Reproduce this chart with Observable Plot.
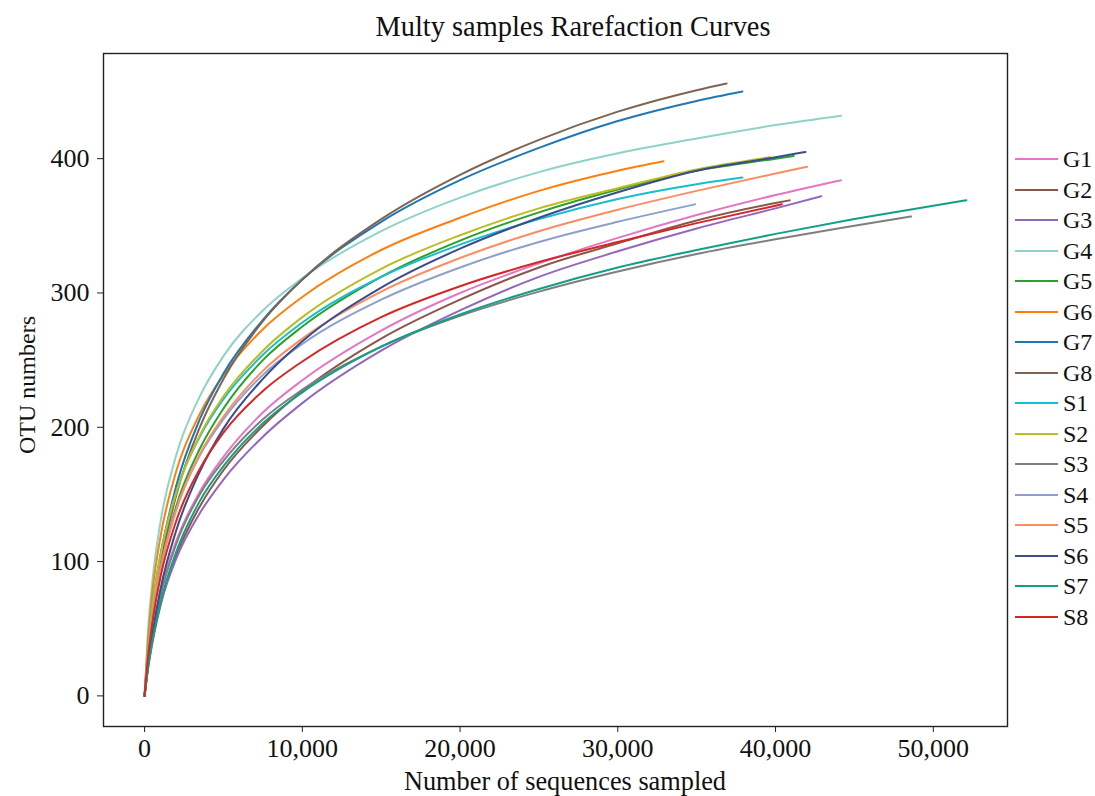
<!DOCTYPE html>
<html><head><meta charset="utf-8">
<script src="https://cdn.jsdelivr.net/npm/d3@7"></script>
<script src="https://cdn.jsdelivr.net/npm/@observablehq/plot@0.6"></script>
<style>
body{margin:0;background:#fff;}
#wrap{position:relative;width:1095px;height:796px;font-family:"Liberation Serif","Times New Roman",serif;color:#111;}
#chart{position:absolute;left:0;top:0;}
.lab{position:absolute;white-space:nowrap;line-height:1;}
</style></head><body>
<div id="wrap"><div id="chart"></div></div>
<script>
// ---- data ----
const samples = ["G1","G2","G3","G4","G5","G6","G7","G8","S1","S2","S3","S4","S5","S6","S7","S8"];
const colors  = ["#e377c2","#8c564b","#9467bd","#8dd3c7","#2ca02c","#ff7f0e","#1f77b4","#7e6451",
                 "#17becf","#bcbd22","#7f7f7f","#8da0cb","#fc8d62","#394d8c","#12a085","#d62728"];
const depths = [0,200,500,1000,2000,3500,5000,7500,10000,15000,20000,25000,30000,35000,40000,45000,50000];
const endDepths = [44150,40900,42900,44150,41150,32900,37900,36900,37900,39650,48600,34900,42000,41900,52100,40400];
const G1 = [0,23,48,77,115,152,178,211,235,272,300,322,341,358,373,384];
const G2 = [0,19,40,67,104,141,168,201,227,266,295,319,337,354,367,369];
const G3 = [0,21,43,68,102,136,161,193,218,257,287,312,331,348,363,372];
const G4 = [0,45,86,129,179,223,253,287,311,346,371,390,404,415,425,432];
const G5 = [0,28,58,94,141,184,214,250,275,312,339,360,377,391,400,402];
const G6 = [0,40,78,118,167,210,239,273,297,332,356,376,391,398];
const G7 = [0,30,63,103,156,206,240,280,310,353,384,408,428,443,450];
const G8 = [0,27,58,97,149,200,236,279,310,355,388,414,435,451,456];
const S1 = [0,34,68,105,152,193,221,254,278,312,336,355,370,381,386];
const S2 = [0,32,66,104,151,194,223,257,282,318,343,363,378,392,401];
const S3 = [0,21,45,74,113,150,175,206,228,260,283,301,316,329,340,350,357];
const S4 = [0,29,60,95,139,179,206,239,262,295,319,338,353,366];
const S5 = [0,28,58,93,138,180,208,242,266,301,326,346,362,376,389,394];
const S6 = [0,21,46,79,123,167,199,236,264,304,333,356,375,391,401,405];
const S7 = [0,19,41,69,107,145,171,203,226,260,284,303,319,332,344,355,365,369];
const S8 = [0,27,55,88,130,169,196,227,249,282,305,323,338,352,365,366];
const seriesValues = [G1,G2,G3,G4,G5,G6,G7,G8,S1,S2,S3,S4,S5,S6,S7,S8];
const xTicks = [0,10000,20000,30000,40000,50000];
const yTicks = [0,100,200,300,400];
const titleText = "Multy samples Rarefaction Curves";
const xLabel = "Number of sequences sampled";
const yLabel = "OTU numbers";

// ---- build table ----
const rows = [];
samples.forEach((s, i) => {
  const vals = seriesValues[i];
  vals.forEach((v, j) => {
    rows.push({sample: s, depth: j === vals.length - 1 ? endDepths[i] : depths[j], otu: v});
  });
});

const chart = Plot.plot({
  width: 1095, height: 796,
  marginLeft: 103, marginRight: 88, marginTop: 53, marginBottom: 70,
  style: {fontFamily: '"Liberation Serif","Times New Roman",serif', fontSize: "26px", color: "#111", background: "white", overflow: "visible"},
  x: {domain: [-2605, 54705]},
  y: {domain: [-22.8, 478.3]},
  color: {domain: samples, range: colors},
  marks: [
    Plot.line(rows, {x: "depth", y: "otu", z: "sample", stroke: "sample", strokeWidth: 2, curve: "monotone-x"}),
    Plot.frame({stroke: "#222", strokeWidth: 1.4}),
    Plot.axisX({ticks: xTicks, tickFormat: d3.format(","), tickSize: 6, tickPadding: 6, label: null, fontSize: 26, stroke: "#222"}),
    Plot.axisY({ticks: yTicks, tickSize: 6, tickPadding: 8, label: null, fontSize: 26, stroke: "#222"})
  ]
});
document.getElementById("chart").appendChild(chart);

const wrap = document.getElementById("wrap");
function addLabel(text, css) {
  const d = document.createElement("div");
  d.className = "lab";
  d.textContent = text;
  Object.assign(d.style, css);
  wrap.appendChild(d);
  return d;
}
addLabel(titleText, {left: "573px", top: "27px", fontSize: "28.4px", transform: "translate(-50%,-50%)"});
addLabel(xLabel, {left: "565px", top: "782px", fontSize: "26.3px", transform: "translate(-50%,-50%)"});
addLabel(yLabel, {left: "27px", top: "385px", fontSize: "24px", transform: "translate(-50%,-50%) rotate(-90deg)"});

// legend
samples.forEach((s, i) => {
  const cy = 159 + i * 30.53;
  const ln = document.createElement("div");
  Object.assign(ln.style, {position: "absolute", left: "1015px", top: (cy - 1) + "px", width: "43px", height: "2px", background: colors[i]});
  wrap.appendChild(ln);
  addLabel(s, {left: "1063px", top: (cy - 12) + "px", fontSize: "24px"});
});
</script>
</body></html>
